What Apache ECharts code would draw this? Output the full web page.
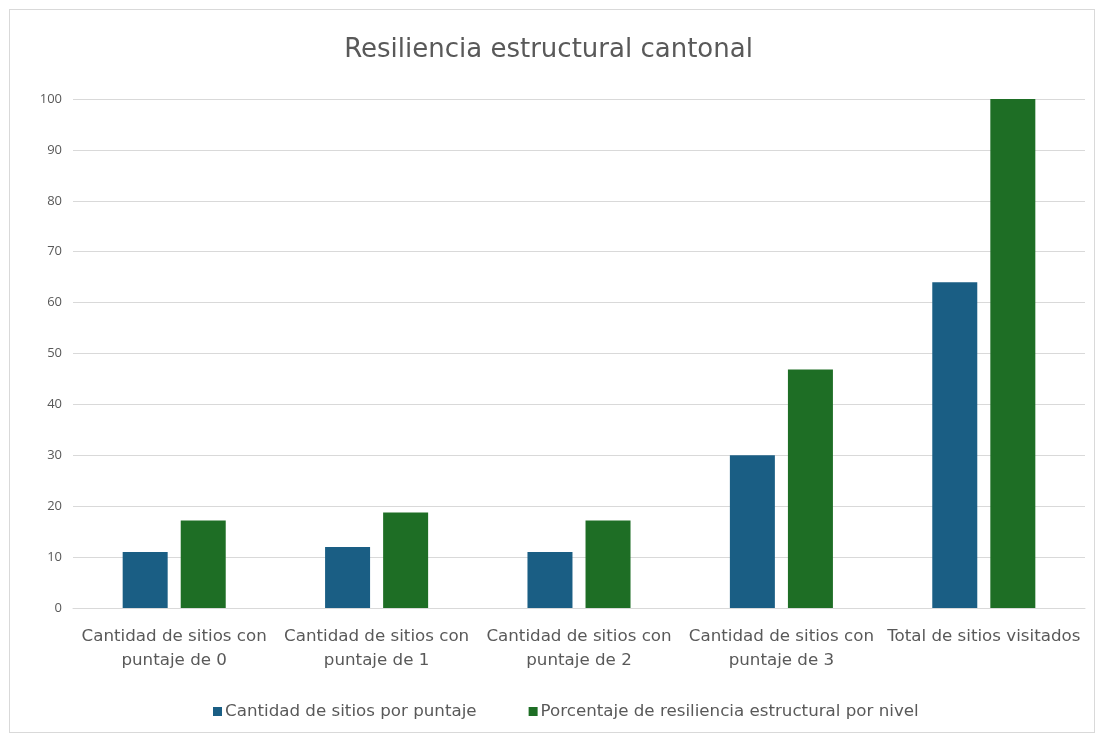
<!DOCTYPE html>
<html>
<head>
<meta charset="utf-8">
<script src="https://cdn.jsdelivr.net/npm/echarts@6/dist/echarts.min.js"></script>
<style>
  html, body { margin: 0; padding: 0; background: #ffffff; }
  #frame { position: absolute; left: 9px; top: 9px; width: 1086px; height: 724px;
           border: 1px solid #d9d9d9; box-sizing: border-box; }
  #chart { position: absolute; left: 0; top: 0; width: 1097px; height: 735px; }
</style>
</head>
<body>
<div id="frame"></div>
<div id="chart"></div>
<script>
// Categories (x axis)
const categories = [
  'Cantidad de sitios con\npuntaje de 0',
  'Cantidad de sitios con\npuntaje de 1',
  'Cantidad de sitios con\npuntaje de 2',
  'Cantidad de sitios con\npuntaje de 3',
  'Total de sitios visitados'
];
// Series names
const seriesNames = [
  'Cantidad de sitios por puntaje',
  'Porcentaje de resiliencia estructural por nivel'
];
// Number of sites per score
const countValues = [11, 12, 11, 30, 64];
// Percentage of structural resilience per level
const percentValues = [17.19, 18.75, 17.19, 46.88, 100];

const chart = echarts.init(document.getElementById('chart'));
const wide = '"DejaVu Sans", sans-serif';
const plain = '"Open Sans", sans-serif';
chart.setOption({
  backgroundColor: 'transparent',
  animation: false,
  title: {
    text: 'Resiliencia estructural cantonal',
    left: 'center',
    top: 32,
    textStyle: { color: '#595959', fontSize: 26, fontWeight: 'normal', fontFamily: wide }
  },
  legend: {
    top: 698,
    left: 208,
    itemWidth: 9,
    itemHeight: 9,
    itemGap: 52,
    icon: 'rect',
    textStyle: { color: '#595959', fontSize: 16.7, fontFamily: wide, padding: [0, 0, 0, -2] },
    data: seriesNames
  },
  grid: { left: 73, right: 12, top: 99, bottom: 127, containLabel: false },
  xAxis: {
    type: 'category',
    data: categories,
    axisLine: { lineStyle: { color: '#d9d9d9' } },
    axisTick: { show: false },
    axisLabel: { color: '#595959', fontSize: 16.7, fontFamily: wide, lineHeight: 24, margin: 17, interval: 0 }
  },
  yAxis: {
    type: 'value',
    min: 0,
    max: 100,
    interval: 10,
    axisLine: { show: false },
    axisTick: { show: false },
    splitLine: { lineStyle: { color: '#d9d9d9' } },
    axisLabel: { color: '#595959', fontSize: 13, fontFamily: plain, margin: 11 }
  },
  series: [
    {
      name: seriesNames[0],
      type: 'bar',
      data: countValues,
      barWidth: 45,
      barGap: '29%',
      itemStyle: { color: '#1a5e84' }
    },
    {
      name: seriesNames[1],
      type: 'bar',
      data: percentValues,
      barWidth: 45,
      itemStyle: { color: '#1e6e25' }
    }
  ]
});
</script>
</body>
</html>
